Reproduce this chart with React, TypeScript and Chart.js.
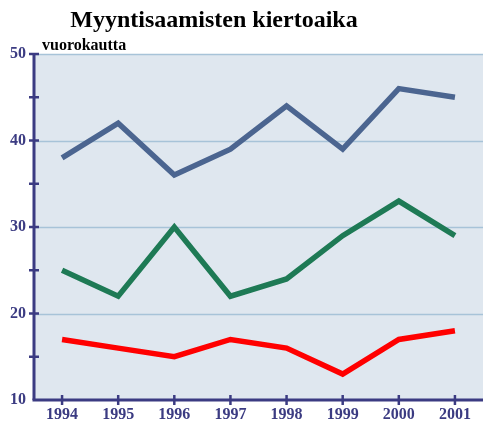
import React, { useEffect, useRef } from "react";
import { Chart, registerables } from "chart.js";

Chart.register(...registerables);

const years = ["1994", "1995", "1996", "1997", "1998", "1999", "2000", "2001"];
const seriesBlue = [38, 42, 36, 39, 44, 39, 46, 45];
const seriesGreen = [25, 22, 30, 22, 24, 29, 33, 29];
const seriesRed = [17, 16, 15, 17, 16, 13, 17, 18];
const gridValues = [20, 30, 40, 50];
const title = "Myyntisaamisten kiertoaika";
const unitLabel = "vuorokautta";

const AXIS = "#3b3b82";
const FONT = "'Liberation Serif', 'Times New Roman', serif";

const decor = {
  id: "decor",
  beforeDraw(chart: any) {
    const { ctx, chartArea: a } = chart;
    ctx.save();
    ctx.fillStyle = "#dfe7ef";
    ctx.fillRect(a.left, a.top, a.right - a.left, a.bottom - a.top);
    ctx.restore();
  },
  beforeDatasetsDraw(chart: any) {
    const { ctx, chartArea: a, scales } = chart;
    const y = scales.y;
    ctx.save();
    ctx.strokeStyle = "#a7c3d8";
    ctx.lineWidth = 1.5;
    gridValues.forEach((v) => {
      const py = Math.round(y.getPixelForValue(v)) + 0.5;
      ctx.beginPath();
      ctx.moveTo(a.left, py);
      ctx.lineTo(a.right, py);
      ctx.stroke();
    });
    ctx.restore();
  },
  afterDatasetsDraw(chart: any) {
    const { ctx, chartArea: a, scales } = chart;
    const x = scales.x;
    const y = scales.y;
    ctx.save();
    ctx.strokeStyle = AXIS;
    ctx.lineWidth = 3;
    ctx.beginPath();
    ctx.moveTo(a.left, a.top);
    ctx.lineTo(a.left, a.bottom);
    ctx.stroke();
    ctx.beginPath();
    ctx.moveTo(a.left - 1.5, a.bottom);
    ctx.lineTo(a.right, a.bottom);
    ctx.stroke();
    ctx.lineWidth = 2.5;
    for (let v = 15; v <= 50; v += 5) {
      const py = y.getPixelForValue(v);
      ctx.beginPath();
      ctx.moveTo(a.left - 5, py);
      ctx.lineTo(a.left + 5, py);
      ctx.stroke();
    }
    years.forEach((_, i) => {
      const px = x.getPixelForValue(i);
      ctx.beginPath();
      ctx.moveTo(px, a.bottom - 5);
      ctx.lineTo(px, a.bottom + 5);
      ctx.stroke();
    });
    ctx.restore();
  },
  afterDraw(chart: any) {
    const { ctx } = chart;
    ctx.save();
    ctx.fillStyle = "#000000";
    ctx.textBaseline = "alphabetic";
    ctx.textAlign = "center";
    ctx.font = `bold 24px ${FONT}`;
    ctx.fillText(title, 214, 27);
    ctx.textAlign = "left";
    ctx.font = `bold 16px ${FONT}`;
    ctx.fillText(unitLabel, 42, 50);
    ctx.restore();
  },
};

export default function App() {
  const ref = useRef<HTMLCanvasElement>(null);
  useEffect(() => {
    if (!ref.current) return;
    const chart = new Chart(ref.current, {
      type: "line",
      data: {
        labels: years,
        datasets: [
          { data: seriesBlue, borderColor: "#4b6590" },
          { data: seriesGreen, borderColor: "#1e7a55" },
          { data: seriesRed, borderColor: "#ff0000" },
        ].map((d) => ({
          ...d,
          borderWidth: 5.5,
          pointRadius: 0,
          tension: 0,
          fill: false,
          borderJoinStyle: "miter" as const,
        })),
      },
      options: {
        responsive: false,
        animation: false,
        layout: { padding: { top: 54, right: 0, left: 0, bottom: 0 } },
        plugins: {
          legend: { display: false },
          title: { display: false },
          tooltip: { enabled: false },
        },
        scales: {
          x: {
            type: "category",
            offset: true,
            grid: { display: false, drawTicks: false },
            border: { display: false },
            afterFit: (s: any) => {
              s.height = 23;
            },
            ticks: {
              autoSkip: false,
              maxRotation: 0,
              padding: 5,
              color: AXIS,
              font: { family: FONT, size: 16, weight: "bold" },
            },
          },
          y: {
            min: 10,
            max: 50,
            grid: { display: false, drawTicks: false },
            border: { display: false },
            afterFit: (s: any) => {
              s.width = 34;
            },
            ticks: {
              stepSize: 5,
              padding: 8,
              color: AXIS,
              font: { family: FONT, size: 16, weight: "bold" },
              callback: (v: any) => (Number(v) % 10 === 0 ? String(v) : ""),
            },
          },
        },
      },
      plugins: [decor],
    });
    return () => chart.destroy();
  }, []);
  return (
    <canvas
      ref={ref}
      width={483}
      height={423}
      style={{ position: "absolute", left: 0, top: 0, width: 483, height: 423 }}
    />
  );
}
